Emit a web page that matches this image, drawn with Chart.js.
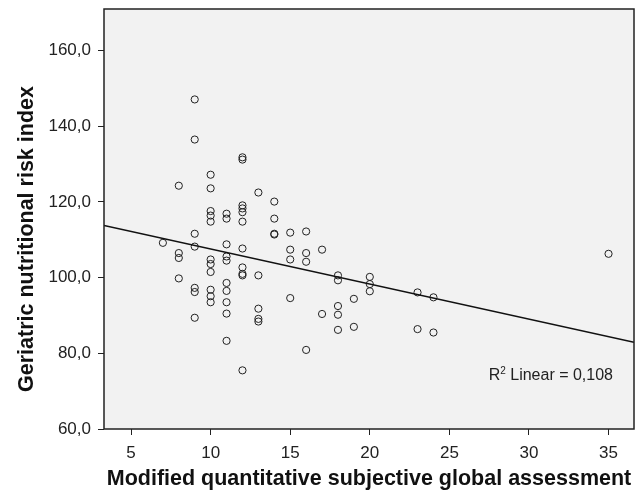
<!DOCTYPE html>
<html>
<head>
<meta charset="utf-8">
<script src="https://cdn.jsdelivr.net/npm/chart.js@4/dist/chart.umd.min.js"></script>
<style>
  html, body { margin: 0; padding: 0; background: #fff; }
  #wrap { width: 640px; height: 494px; }
</style>
</head>
<body>
<div id="wrap"><canvas id="scatterChart" width="640" height="494"></canvas></div>
<script>
// modified quantitative SGA score (x) and GNRI (y), one entry per patient
var mqsga = [
    7,
    8, 8, 8, 8,
    9, 9, 9, 9, 9, 9, 9,
    10, 10, 10, 10, 10, 10, 10, 10, 10, 10, 10,
    11, 11, 11, 11, 11, 11, 11, 11, 11, 11,
    12, 12, 12, 12, 12, 12, 12, 12, 12, 12, 12,
    13, 13, 13, 13, 13,
    14, 14, 14, 14,
    15, 15, 15, 15,
    16, 16, 16, 16,
    17, 17,
    18, 18, 18, 18, 18,
    19, 19,
    20, 20, 20,
    23, 23,
    24, 24,
    35
];
var gnri = [
    109.2,
    124.3, 106.5, 105.2, 99.8,
    147.1, 136.5, 111.6, 108.2, 97.3, 96.2, 89.4,
    127.2, 123.6, 117.6, 116.4, 114.8, 104.8, 103.6, 101.5, 96.8, 95.1, 93.5,
    116.9, 115.6, 108.8, 105.6, 104.5, 98.6, 96.5, 93.5, 90.5, 83.3,
    131.8, 131.2, 119.1, 118.3, 117.3, 114.8, 107.7, 102.7, 101.0, 100.6, 75.5,
    122.5, 100.6, 91.8, 89.1, 88.4,
    120.1, 115.6, 111.6, 111.4,
    111.9, 107.4, 104.8, 94.6,
    112.2, 106.5, 104.2, 80.9,
    107.4, 90.4,
    100.6, 99.3, 92.5, 90.2, 86.2,
    94.4, 87.0,
    100.2, 98.3, 96.4,
    96.1, 86.4,
    94.8, 85.5,
    106.3
];
// fit line ends, read at the plot edges
var fitX = [3.3, 36.6];
var fitY = [113.8, 82.9];
var rSquared = '0,108';
var yTitle = 'Geriatric nutritional risk index';

var fontFamily = "'Liberation Sans', Arial, sans-serif";
var ink = '#222';

var points = mqsga.map(function (x, i) { return { x: x, y: gnri[i] }; });
var fitPoints = fitX.map(function (x, i) { return { x: x, y: fitY[i] }; });

var plotFrame = {
    id: 'plotFrame',
    beforeDraw: function (chart) {
        var a = chart.chartArea, ctx = chart.ctx;
        ctx.save();
        ctx.fillStyle = '#f2f2f2';
        ctx.fillRect(a.left, a.top, a.right - a.left, a.bottom - a.top);
        ctx.restore();
    },
    afterDraw: function (chart) {
        var a = chart.chartArea, ctx = chart.ctx;
        ctx.save();
        ctx.strokeStyle = '#222';
        ctx.lineWidth = 1.5;
        ctx.strokeRect(a.left, a.top, a.right - a.left, a.bottom - a.top);

        // R2 label, bottom right of plot
        ctx.fillStyle = ink;
        ctx.textBaseline = 'middle';
        ctx.textAlign = 'left';
        var rest = ' Linear = ' + rSquared;
        ctx.font = '16px ' + fontFamily;
        var wR = ctx.measureText('R').width;
        var wRest = ctx.measureText(rest).width;
        ctx.font = '10px ' + fontFamily;
        var w2 = ctx.measureText('2').width;
        var xEnd = a.right - 21;
        var x0 = xEnd - wR - w2 - wRest;
        var y0 = a.bottom - 53;
        ctx.font = '16px ' + fontFamily;
        ctx.fillText('R', x0, y0);
        ctx.font = '10px ' + fontFamily;
        ctx.fillText('2', x0 + wR, y0 - 5);
        ctx.font = '16px ' + fontFamily;
        ctx.fillText(rest, x0 + wR + w2, y0);

        // y axis title, sits a bit below the middle of the plot like the original
        ctx.translate(27, (a.top + a.bottom) / 2 + 20);
        ctx.rotate(-Math.PI / 2);
        ctx.textAlign = 'center';
        ctx.fillStyle = '#111';
        ctx.font = 'bold 21.5px ' + fontFamily;
        ctx.fillText(yTitle, 0, 0);
        ctx.restore();
    }
};

var ctx = document.getElementById('scatterChart').getContext('2d');
var chart = new Chart(ctx, {
    type: 'scatter',
    data: {
        datasets: [{
            type: 'line',
            label: 'Linear fit',
            data: fitPoints,
            borderColor: '#111',
            borderWidth: 1.5,
            pointRadius: 0,
            fill: false
        }, {
            label: 'Patients',
            data: points,
            pointRadius: 3.6,
            pointBorderWidth: 1,
            borderColor: '#222',
            backgroundColor: 'rgba(0,0,0,0)'
        }]
    },
    options: {
        responsive: false,
        animation: false,
        devicePixelRatio: 1,
        layout: { padding: { top: 9, right: 6, left: 0, bottom: 0 } },
        plugins: {
            legend: { display: false },
            tooltip: { enabled: false }
        },
        scales: {
            x: {
                type: 'linear',
                min: 3.3,
                max: 36.6,
                afterFit: function (scale) {
                    scale.height = 65;
                    scale.paddingLeft = 0;
                    scale.paddingRight = 0;
                },
                border: { display: false },
                grid: { drawOnChartArea: false, tickLength: 6, color: ink, tickColor: ink },
                ticks: {
                    stepSize: 5,
                    includeBounds: false,
                    padding: 8,
                    color: ink,
                    font: { family: fontFamily, size: 17 }
                },
                title: {
                    display: true,
                    text: 'Modified quantitative subjective global assessment',
                    color: '#111',
                    padding: { top: 0, bottom: 2 },
                    font: { family: fontFamily, size: 21.5, weight: 'bold' }
                }
            },
            y: {
                type: 'linear',
                min: 60,
                max: 171,
                afterFit: function (scale) {
                    scale.width = 104;
                    scale.paddingTop = 0;
                    scale.paddingBottom = 0;
                },
                border: { display: false },
                grid: { drawOnChartArea: false, tickLength: 6, color: ink, tickColor: ink },
                ticks: {
                    stepSize: 20,
                    includeBounds: false,
                    padding: 7,
                    color: ink,
                    font: { family: fontFamily, size: 17 },
                    callback: function (v) { return v.toFixed(1).replace('.', ','); }
                }
            }
        }
    },
    plugins: [plotFrame]
});
</script>
</body>
</html>
